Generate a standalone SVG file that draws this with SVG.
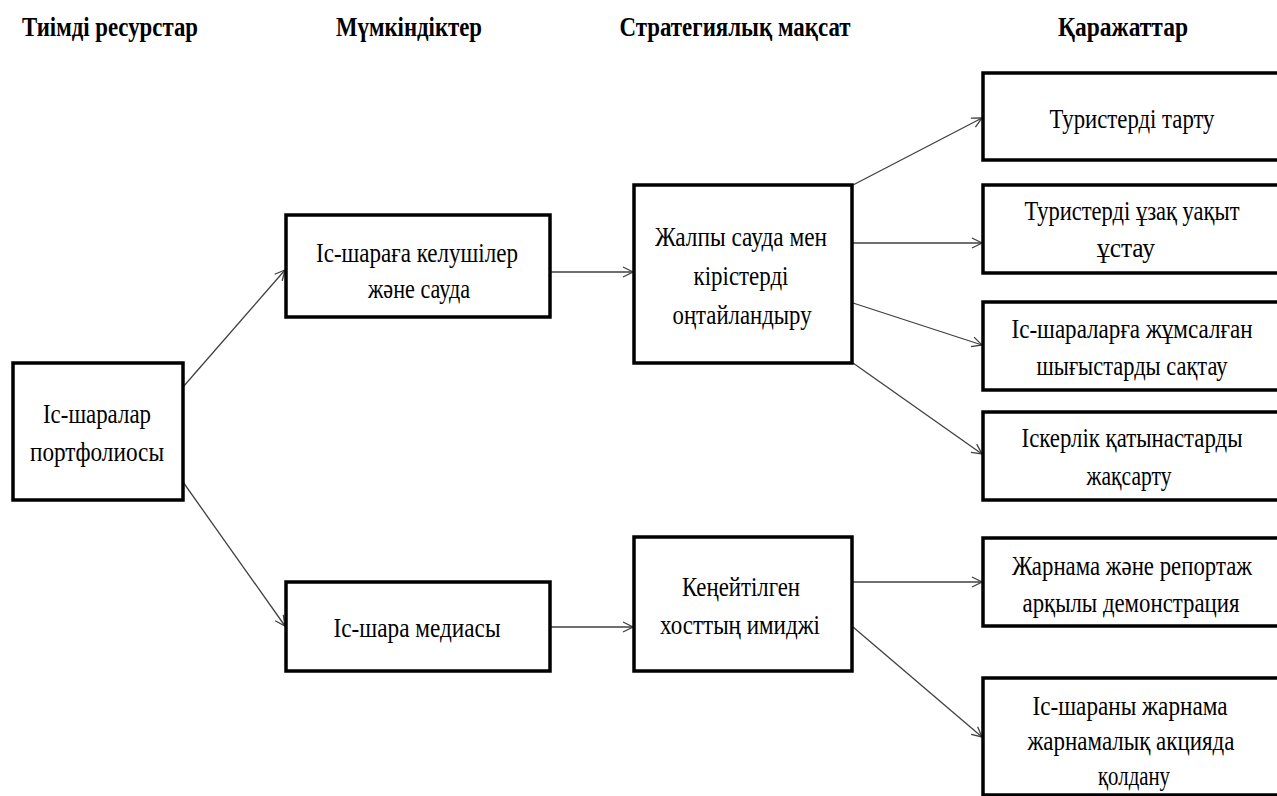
<svg xmlns="http://www.w3.org/2000/svg" width="1277" height="796" viewBox="0 0 1277 796">
<defs>
<style>
.box{fill:#fff;stroke:#000;stroke-width:3.5}
.t{font-family:"Liberation Serif","Times New Roman",serif;font-size:28px;fill:#000;text-anchor:middle}
.h{font-family:"Liberation Serif","Times New Roman",serif;font-size:27px;font-weight:bold;fill:#000;text-anchor:middle}
.c{fill:none;stroke:#404040;stroke-width:1.3}
</style>
<marker id="arr" markerUnits="userSpaceOnUse" markerWidth="14" markerHeight="14" refX="11" refY="6" orient="auto">
<path d="M1,1 L11,6 L1,11" fill="none" stroke="#404040" stroke-width="1.3"/>
</marker>
</defs>
<rect width="1277" height="796" fill="#fff"/>
<g id="headers">
<text class="h" transform="translate(110,36) scale(0.78,1)" textLength="225.6" lengthAdjust="spacingAndGlyphs">Тиімді ресурстар</text>
<text class="h" transform="translate(409,36) scale(0.78,1)" textLength="187.2" lengthAdjust="spacingAndGlyphs">Мүмкіндіктер</text>
<text class="h" transform="translate(735,36) scale(0.78,1)" textLength="296.2" lengthAdjust="spacingAndGlyphs">Стратегиялық мақсат</text>
<text class="h" transform="translate(1123,36) scale(0.78,1)" textLength="166.7" lengthAdjust="spacingAndGlyphs">Қаражаттар</text>
</g>
<g id="connectors">
<line class="c" x1="183" y1="387" x2="285" y2="270" marker-end="url(#arr)"/>
<line class="c" x1="183" y1="482" x2="285" y2="626" marker-end="url(#arr)"/>
<line class="c" x1="550" y1="272" x2="633" y2="272" marker-end="url(#arr)"/>
<line class="c" x1="853" y1="185" x2="982" y2="118" marker-end="url(#arr)"/>
<line class="c" x1="853" y1="243" x2="982" y2="243" marker-end="url(#arr)"/>
<line class="c" x1="853" y1="303" x2="982" y2="345" marker-end="url(#arr)"/>
<line class="c" x1="853" y1="363" x2="982" y2="454" marker-end="url(#arr)"/>
<line class="c" x1="550" y1="627" x2="633" y2="627" marker-end="url(#arr)"/>
<line class="c" x1="853" y1="582" x2="982" y2="582" marker-end="url(#arr)"/>
<line class="c" x1="853" y1="627" x2="982" y2="737" marker-end="url(#arr)"/>
</g>
<g id="portfolio">
<rect class="box" x="13" y="363" width="170" height="137"/>
<text class="t" transform="translate(97,423) scale(0.78,1)" textLength="138.5" lengthAdjust="spacingAndGlyphs">Іс-шаралар</text>
<text class="t" transform="translate(97,461) scale(0.78,1)" textLength="171.8" lengthAdjust="spacingAndGlyphs">портфолиосы</text>
</g>
<g id="attendees">
<rect class="box" x="286" y="215" width="264" height="102"/>
<text class="t" transform="translate(417,262) scale(0.78,1)" textLength="259" lengthAdjust="spacingAndGlyphs">Іс-шараға келушілер</text>
<text class="t" transform="translate(419,298) scale(0.78,1)" textLength="130.8" lengthAdjust="spacingAndGlyphs">және сауда</text>
</g>
<g id="media">
<rect class="box" x="286" y="582" width="264" height="89"/>
<text class="t" transform="translate(417,637) scale(0.78,1)" textLength="214.1" lengthAdjust="spacingAndGlyphs">Іс-шара медиасы</text>
</g>
<g id="optimize">
<rect class="box" x="634" y="185" width="218" height="178"/>
<text class="t" transform="translate(741,246) scale(0.78,1)" textLength="220.5" lengthAdjust="spacingAndGlyphs">Жалпы сауда мен</text>
<text class="t" transform="translate(741,285) scale(0.78,1)" textLength="121.8" lengthAdjust="spacingAndGlyphs">кірістерді</text>
<text class="t" transform="translate(742,324) scale(0.78,1)" textLength="178.2" lengthAdjust="spacingAndGlyphs">оңтайландыру</text>
</g>
<g id="image">
<rect class="box" x="634" y="537" width="218" height="134"/>
<text class="t" transform="translate(741,596) scale(0.78,1)" textLength="151.3" lengthAdjust="spacingAndGlyphs">Кеңейтілген</text>
<text class="t" transform="translate(740,634) scale(0.78,1)" textLength="205.1" lengthAdjust="spacingAndGlyphs">хосттың имиджі</text>
</g>
<g id="attract">
<rect class="box" x="983" y="73" width="300" height="87"/>
<text class="t" transform="translate(1132,128) scale(0.78,1)" textLength="211.5" lengthAdjust="spacingAndGlyphs">Туристерді тарту</text>
</g>
<g id="retain">
<rect class="box" x="983" y="185" width="300" height="88"/>
<text class="t" transform="translate(1132,220) scale(0.78,1)" textLength="275.6" lengthAdjust="spacingAndGlyphs">Туристерді ұзақ уақыт</text>
<text class="t" transform="translate(1126,257) scale(0.78,1)" textLength="74.4" lengthAdjust="spacingAndGlyphs">ұстау</text>
</g>
<g id="costs">
<rect class="box" x="983" y="302" width="300" height="88"/>
<text class="t" transform="translate(1132,338) scale(0.78,1)" textLength="309" lengthAdjust="spacingAndGlyphs">Іс-шараларға жұмсалған</text>
<text class="t" transform="translate(1132,375) scale(0.78,1)" textLength="244.9" lengthAdjust="spacingAndGlyphs">шығыстарды сақтау</text>
</g>
<g id="business">
<rect class="box" x="983" y="412" width="300" height="88"/>
<text class="t" transform="translate(1132,447) scale(0.78,1)" textLength="283.3" lengthAdjust="spacingAndGlyphs">Іскерлік қатынастарды</text>
<text class="t" transform="translate(1129,485) scale(0.78,1)" textLength="109" lengthAdjust="spacingAndGlyphs">жақсарту</text>
</g>
<g id="advert">
<rect class="box" x="983" y="538" width="300" height="88"/>
<text class="t" transform="translate(1132,575) scale(0.78,1)" textLength="307.7" lengthAdjust="spacingAndGlyphs">Жарнама және репортаж</text>
<text class="t" transform="translate(1131,612) scale(0.78,1)" textLength="278.2" lengthAdjust="spacingAndGlyphs">арқылы демонстрация</text>
</g>
<g id="campaign">
<rect class="box" x="983" y="678" width="300" height="117"/>
<text class="t" transform="translate(1130,715) scale(0.78,1)" textLength="250" lengthAdjust="spacingAndGlyphs">Іс-шараны жарнама</text>
<text class="t" transform="translate(1131,750) scale(0.78,1)" textLength="265.4" lengthAdjust="spacingAndGlyphs">жарнамалық акцияда</text>
<text class="t" transform="translate(1134,785) scale(0.78,1)" textLength="92.3" lengthAdjust="spacingAndGlyphs">қолдану</text>
</g>
</svg>
